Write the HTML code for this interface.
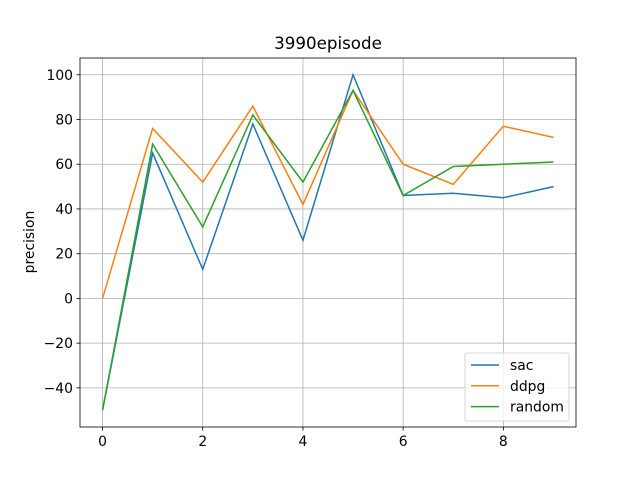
<!DOCTYPE html>
<html><head><meta charset="utf-8"><style>body{margin:0;background:#fff}svg{font-family:"DejaVu Sans","Liberation Sans",sans-serif}</style></head>
<body>
<svg id="c" width="640" height="480" viewBox="0 0 640 480">
<rect width="640" height="480" fill="#fff"/>
<g id="grid"></g>
<g id="lines"></g>
<rect x="80" y="58" width="496" height="369" fill="none" stroke="#000" stroke-width="0.8"/>
<g id="ticks" font-size="13.9px"></g>
<text x="328" y="49" text-anchor="middle" font-size="16.7px">3990episode</text>
<text transform="translate(34,242) rotate(-90)" text-anchor="middle" font-size="13.9px">precision</text>
<g id="legend"></g>
</svg>
<script>
const xs=[0,1,2,3,4,5,6,7,8,9];
const sac=[-50,65,13,78,26,100,46,47,45,50];
const ddpg=[0,76,52,86,42,93,60,51,77,72];
const random=[-50,69,32,82,52,93,46,59,60,61];
const xTicks=[0,2,4,6,8];
const yTicks=[-40,-20,0,20,40,60,80,100];
const seriesNames=['sac','ddpg','random'];
const colors=['#1f77b4','#ff7f0e','#2ca02c'];
const L=80,R=576,T=58,B=427;
const xmin=-0.45,xmax=9.45,ymin=-57.5,ymax=107.5;
const X=v=>L+(v-xmin)/(xmax-xmin)*(R-L);
const Y=v=>B-(v-ymin)/(ymax-ymin)*(B-T);
const NS='http://www.w3.org/2000/svg';
function mk(t,a,p){const e=document.createElementNS(NS,t);for(const k in a)e.setAttribute(k,a[k]);p.appendChild(e);return e;}
const g=document.getElementById('grid'),tk=document.getElementById('ticks'),ln=document.getElementById('lines'),lg=document.getElementById('legend');
xTicks.forEach(v=>{const x=X(v);
 let l=mk('line',{x1:x,x2:x,y1:T,y2:B,stroke:'#b0b0b0','stroke-width':0.8},g);
 
 mk('line',{x1:x,x2:x,y1:B,y2:B+3.5,stroke:'#000','stroke-width':0.8},tk);
 let t=mk('text',{x:x,y:B+19,'text-anchor':'middle'},tk);t.textContent=v;
 });
yTicks.forEach(v=>{const y=Y(v);
 let l=mk('line',{x1:L,x2:R,y1:y,y2:y,stroke:'#b0b0b0','stroke-width':0.8},g);
 
 mk('line',{x1:L-3.5,x2:L,y1:y,y2:y,stroke:'#000','stroke-width':0.8},tk);
 let t=mk('text',{x:L-7,y:y+5,'text-anchor':'end'},tk);t.textContent=(v<0?'\u2212'+(-v):v);
 });
[sac,ddpg,random].forEach((s,i)=>{
 let p=mk('polyline',{points:s.map((v,j)=>X(xs[j])+','+Y(v)).join(' '),fill:'none',stroke:colors[i],'stroke-width':1.5},ln);
 });
let bx=mk('rect',{x:465,y:353,width:104,height:68,rx:2,fill:'#fff','fill-opacity':0.8,stroke:'#ccc','stroke-width':0.8},lg);

seriesNames.forEach((n,i)=>{const y=365+i*20.8;
 mk('line',{x1:471,x2:499,y1:y,y2:y,stroke:colors[i],'stroke-width':1.5},lg);
 let t=mk('text',{x:510,y:y+5,'font-size':'13.9px'},lg);t.textContent=n;
 });
</script>
</body></html>
